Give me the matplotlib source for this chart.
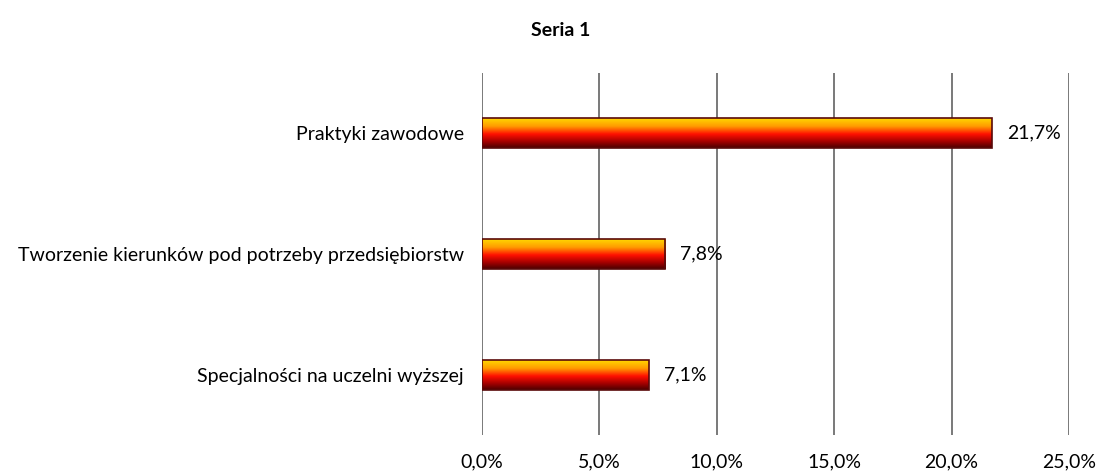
import numpy as np
import matplotlib.pyplot as plt
from matplotlib.colors import LinearSegmentedColormap

categories = ['Praktyki zawodowe',
              'Tworzenie kierunków pod potrzeby przedsiębiorstw',
              'Specjalności na uczelni wyższej']
values = [21.7, 7.8, 7.1]
value_labels = ['21,7%', '7,8%', '7,1%']
xticks = [0, 5, 10, 15, 20, 25]
xtick_labels = ['0,0%', '5,0%', '10,0%', '15,0%', '20,0%', '25,0%']

plt.rcParams['font.family'] = ['Lato', 'DejaVu Sans']
fs = 14

fig = plt.figure(figsize=(11.01, 4.72), dpi=100)
ax = fig.add_axes([482 / 1101, 37 / 472, 587 / 1101, 362 / 472])

grad = LinearSegmentedColormap.from_list('fire', [
    (0.0, '#ffe000'), (0.3, '#ff9a00'), (0.55, '#ff1000'),
    (0.8, '#a00000'), (1.0, '#4a0000')])

ypos = np.arange(len(categories))
h = 0.25
gradient = np.linspace(0, 1, 256).reshape(-1, 1)
for y, v, lab in zip(ypos, values, value_labels):
    bars = ax.barh(y, v, height=h, facecolor='none', edgecolor='#5a0a0a',
                   linewidth=1.2, zorder=4)
    im = ax.imshow(gradient, cmap=grad, aspect='auto', zorder=3,
                   extent=(0, v, y + h / 2, y - h / 2), interpolation='bilinear')
    im.set_clip_path(bars[0])
    ax.text(v + 0.65, y, lab, va='center', ha='left', fontsize=fs,
            color='#000000', zorder=5)

ax.set_xlim(0, 25)
ax.set_ylim(len(categories) - 0.5, -0.5)
ax.set_xticks(xticks)
ax.set_xticklabels(xtick_labels, fontsize=fs, color='#000000')
ax.set_yticks(ypos)
ax.set_yticklabels(categories, fontsize=fs, color='#000000')
ax.tick_params(axis='x', length=0, pad=13)
ax.tick_params(axis='y', length=0, pad=13)
ax.grid(axis='x', color='#6e6e6e', linewidth=1.3, zorder=0)
ax.set_axisbelow(True)
for s in ax.spines.values():
    s.set_visible(False)

fig.text(561 / 1101, 1 - 30 / 472, 'Seria 1', ha='center', va='center',
         fontsize=fs, fontweight='bold', color='#000000')

fig.savefig('out.png', dpi=100)
